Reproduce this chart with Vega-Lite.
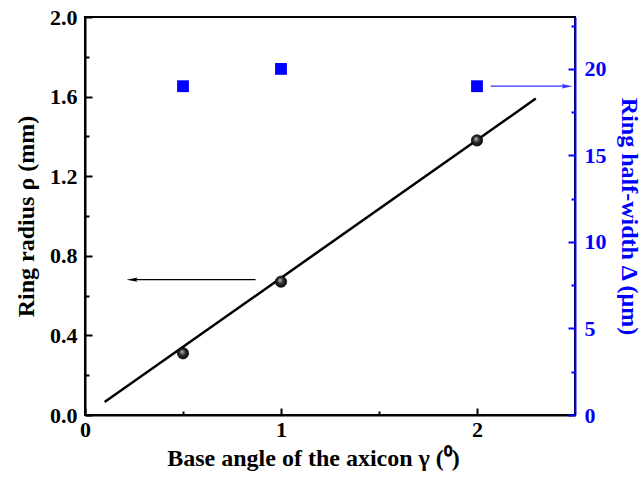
{
  "$schema": "https://vega.github.io/schema/vega-lite/v6.json",
  "width": 490,
  "height": 398,
  "autosize": {"type": "none"},
  "padding": {"left": 85, "top": 17, "right": 67, "bottom": 70},
  "background": "white",
  "config": {
    "font": "Liberation Serif",
    "view": {"stroke": "black", "strokeWidth": 2},
    "axis": {
      "grid": false,
      "labelFont": "Liberation Serif",
      "labelFontWeight": 700,
      "labelFontSize": 22,
      "titleFont": "Liberation Serif",
      "titleFontWeight": 700,
      "titleFontSize": 24,
      "domainWidth": 2,
      "tickWidth": 2,
      "labelOverlap": false,
      "labelFlush": false
    }
  },
  "datasets": {
    "radius": [
      {"gamma": 0.5, "rho": 0.31},
      {"gamma": 1.0, "rho": 0.67},
      {"gamma": 2.0, "rho": 1.38}
    ],
    "fit": [
      {"gamma": 0.1, "rho": 0.065},
      {"gamma": 2.3, "rho": 1.59}
    ],
    "halfwidth": [
      {"gamma": 0.5, "delta": 19},
      {"gamma": 1.0, "delta": 20},
      {"gamma": 2.0, "delta": 19}
    ],
    "arrowLeft": [
      {"from": 0.87, "to": 0.24, "rho": 0.68}
    ],
    "arrowRight": [
      {"from": 2.07, "to": 2.46, "delta": 19}
    ]
  },
  "encoding": {
    "x": {
      "type": "quantitative",
      "scale": {"domain": [0, 2.5], "nice": false, "zero": false},
      "axis": {
        "title": "Base angle of the axicon γ (⁰)",
        "values": [0, 0.5, 1, 1.5, 2],
        "labelExpr": "datum.value % 1 == 0 ? format(datum.value, 'd') : ''",
        "tickSize": {"condition": {"test": "datum.value % 1 == 0", "value": -7}, "value": -4},
        "labelFontWeight": 700,
        "labelFontSize": 22,
        "titleFontWeight": 700,
        "titleFontSize": 24,
        "labelPadding": 11,
        "titlePadding": 3,
        "titleX": 228,
        "domainColor": "black",
        "tickColor": "black",
        "labelColor": "black",
        "titleColor": "black"
      }
    }
  },
  "layer": [
    {
      "layer": [
        {
          "data": {"name": "fit"},
          "mark": {"type": "line", "color": "black", "strokeWidth": 2.5},
          "encoding": {
            "x": {"field": "gamma", "type": "quantitative"},
            "y": {"field": "rho", "type": "quantitative"}
          }
        },
        {
          "data": {"name": "radius"},
          "mark": {
            "type": "point",
            "filled": true,
            "size": 130,
            "opacity": 1,
            "fill": {
              "gradient": "radial",
              "x1": 0.4, "y1": 0.35, "r1": 0,
              "x2": 0.5, "y2": 0.5, "r2": 0.55,
              "stops": [
                {"offset": 0, "color": "#c8c8c8"},
                {"offset": 0.45, "color": "#333333"},
                {"offset": 1, "color": "#000000"}
              ]
            },
            "stroke": "black",
            "strokeWidth": 0.6
          },
          "encoding": {
            "x": {"field": "gamma", "type": "quantitative"},
            "y": {"field": "rho", "type": "quantitative"}
          }
        },
        {
          "data": {"name": "arrowLeft"},
          "mark": {"type": "rule", "color": "black", "strokeWidth": 1.3},
          "encoding": {
            "x": {"field": "from", "type": "quantitative"},
            "x2": {"field": "to"},
            "y": {"field": "rho", "type": "quantitative"}
          }
        },
        {
          "data": {"name": "arrowLeft"},
          "mark": {
            "type": "point",
            "shape": "M -1 0 L 1 -0.4 L 0.7 0 L 1 0.4 Z",
            "filled": true,
            "color": "black",
            "opacity": 1,
            "size": 120
          },
          "encoding": {
            "x": {"field": "to", "type": "quantitative"},
            "y": {"field": "rho", "type": "quantitative"}
          }
        }
      ],
      "encoding": {
        "y": {
          "type": "quantitative",
          "scale": {"domain": [0, 2.0], "nice": false},
          "axis": {
            "title": "Ring radius ρ (mm)",
            "orient": "left",
            "values": [0, 0.2, 0.4, 0.6, 0.8, 1.0, 1.2, 1.4, 1.6, 1.8, 2.0],
            "labelExpr": "abs(datum.value / 0.4 - round(datum.value / 0.4)) < 0.01 ? format(datum.value, '.1f') : ''",
            "tickSize": {"condition": {"test": "abs(datum.value / 0.4 - round(datum.value / 0.4)) < 0.01", "value": -7}, "value": -4},
            "labelFontWeight": 700,
            "labelFontSize": 22,
            "titleFontWeight": 700,
            "titleFontSize": 24,
            "labelPadding": 15,
            "titlePadding": 11,
            "domainColor": "black",
            "tickColor": "black",
            "labelColor": "black",
            "titleColor": "black"
          }
        }
      }
    },
    {
      "layer": [
        {
          "data": {"name": "halfwidth"},
          "mark": {"type": "point", "shape": "square", "filled": true, "color": "#0000ff", "opacity": 1, "size": 140},
          "encoding": {
            "x": {"field": "gamma", "type": "quantitative"},
            "y": {"field": "delta", "type": "quantitative"}
          }
        },
        {
          "data": {"name": "arrowRight"},
          "mark": {"type": "rule", "color": "#3333ff", "strokeWidth": 1.3},
          "encoding": {
            "x": {"field": "from", "type": "quantitative"},
            "x2": {"field": "to"},
            "y": {"field": "delta", "type": "quantitative"}
          }
        },
        {
          "data": {"name": "arrowRight"},
          "mark": {
            "type": "point",
            "shape": "M 1 0 L -1 -0.4 L -0.7 0 L -1 0.4 Z",
            "filled": true,
            "color": "#3333ff",
            "opacity": 1,
            "size": 120
          },
          "encoding": {
            "x": {"field": "to", "type": "quantitative"},
            "y": {"field": "delta", "type": "quantitative"}
          }
        }
      ],
      "encoding": {
        "y": {
          "type": "quantitative",
          "scale": {"domain": [0, 23], "nice": false},
          "axis": {
            "title": "Ring half-width Δ (μm)",
            "orient": "right",
            "values": [0, 2.5, 5, 7.5, 10, 12.5, 15, 17.5, 20, 22.5],
            "labelExpr": "datum.value % 5 == 0 ? format(datum.value, 'd') : ''",
            "tickSize": {"condition": {"test": "datum.value % 5 == 0", "value": -7}, "value": -4},
            "labelFontWeight": 700,
            "labelFontSize": 22,
            "titleFontWeight": 700,
            "titleFontSize": 24,
            "labelPadding": 16,
            "titlePadding": 10,
            "domainColor": "#0000ff",
            "tickColor": "#0000ff",
            "labelColor": "#0000ff",
            "titleColor": "#0000ff"
          }
        }
      }
    }
  ],
  "resolve": {"scale": {"y": "independent"}}
}
